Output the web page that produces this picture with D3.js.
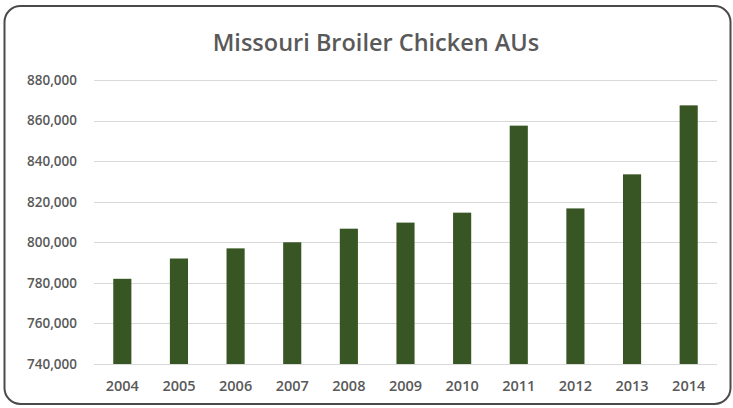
<!DOCTYPE html>
<html>
<head>
<meta charset="utf-8">
<script src="https://cdnjs.cloudflare.com/ajax/libs/d3/7.8.5/d3.min.js"></script>
<style>
  body { margin: 0; background: #fff; }
  text { font-family: "Open Sans", "Noto Sans", sans-serif; }
</style>
</head>
<body>
<div id="chart"></div>
<script>
// chart data
var years = ["2004", "2005", "2006", "2007", "2008", "2009", "2010", "2011", "2012", "2013", "2014"];
var aus = [782000, 792000, 797000, 800000, 806700, 809700, 814600, 857500, 816700, 833500, 867500];
var yTicks = [740000, 760000, 780000, 800000, 820000, 840000, 860000, 880000];

var W = 733, H = 408;
var margin = {top: 80, right: 16, bottom: 44, left: 94};

var svg = d3.select("#chart")
    .append("svg")
    .attr("width", W)
    .attr("height", H);

// rounded frame
svg.append("rect")
    .attr("x", 4.5)
    .attr("y", 6)
    .attr("width", 726)
    .attr("height", 398)
    .attr("rx", 16)
    .attr("fill", "#fff")
    .attr("stroke", "#4a4a4a")
    .attr("stroke-width", 2);

// title
svg.append("text")
    .attr("x", 376)
    .attr("y", 51)
    .attr("text-anchor", "middle")
    .attr("fill", "#595959")
    .attr("font-size", "23.5px")
    .attr("font-weight", 600)
    .text("Missouri Broiler Chicken AUs");

var xScale = d3.scaleBand()
    .domain(years)
    .range([margin.left, W - margin.right])
    .paddingInner(0.68)
    .paddingOuter(0.34);

var yScale = d3.scaleLinear()
    .domain([740000, 880000])
    .range([H - margin.bottom, margin.top]);

// gridlines
svg.append("g")
    .selectAll("line")
    .data(yTicks)
    .enter()
    .append("line")
    .attr("x1", margin.left)
    .attr("x2", W - margin.right)
    .attr("y1", d => Math.round(yScale(d)) + 0.5)
    .attr("y2", d => Math.round(yScale(d)) + 0.5)
    .attr("stroke", "#d9d9d9")
    .attr("stroke-width", 1);

// y axis labels
var yAxis = svg.append("g")
    .attr("transform", "translate(" + margin.left + ",0)")
    .call(d3.axisLeft(yScale)
        .tickValues(yTicks)
        .tickFormat(d3.format(","))
        .tickSize(0)
        .tickPadding(17));
yAxis.select(".domain").remove();
yAxis.selectAll("text")
    .attr("fill", "#595959")
    .attr("font-size", "13.5px")
    .attr("font-weight", 600)
    .attr("font-family", "\"Open Sans\", sans-serif");

// bars
svg.append("g")
    .selectAll("rect")
    .data(aus)
    .enter()
    .append("rect")
    .attr("x", (d, i) => xScale(years[i]))
    .attr("y", d => yScale(d))
    .attr("width", xScale.bandwidth())
    .attr("height", d => yScale(740000) - yScale(d))
    .attr("fill", "#375623");

// x axis labels
var xAxis = svg.append("g")
    .attr("transform", "translate(0," + (H - margin.bottom) + ")")
    .call(d3.axisBottom(xScale).tickSize(0).tickPadding(17));
xAxis.select(".domain").remove();
xAxis.selectAll("text")
    .attr("fill", "#595959")
    .attr("font-size", "14.5px")
    .attr("font-weight", 600)
    .attr("font-family", "\"Open Sans\", sans-serif");
</script>
</body>
</html>
